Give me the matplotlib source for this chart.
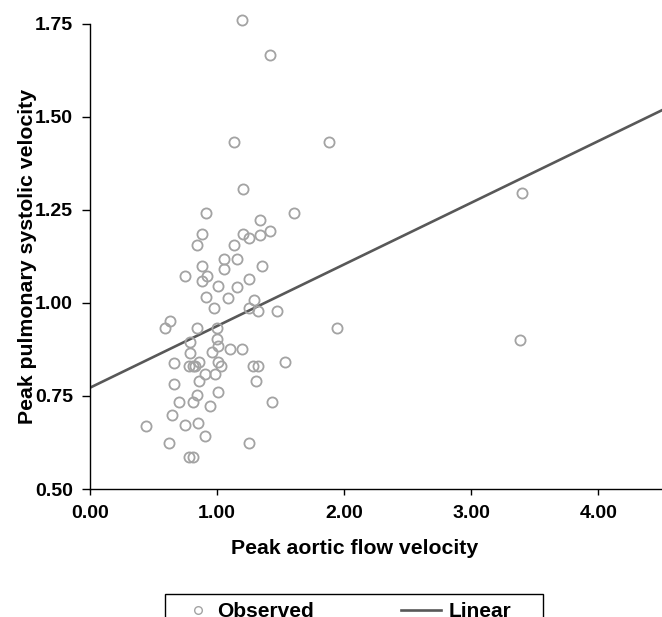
import matplotlib
matplotlib.use("Agg")
import matplotlib.pyplot as plt
from matplotlib.patches import Rectangle
from matplotlib.lines import Line2D

plt.rcParams['font.family'] = ['Liberation Sans', 'DejaVu Sans']

aortic = [1.197, 1.415, 1.134, 1.877, 1.202, 0.913, 1.606, 1.339, 0.884, 1.207,
          1.247, 1.339, 1.415, 0.845, 1.134, 1.055, 1.160, 0.884, 1.352, 1.055,
          0.751, 0.919, 0.884, 1.247, 1.005, 1.155, 0.911, 1.087, 1.291, 0.979,
          1.254, 1.320, 1.472, 0.630, 0.593, 0.840, 1.002, 1.945, 0.787, 0.997,
          1.005, 1.102, 1.197, 0.787, 0.958, 0.661, 0.861, 1.005, 1.538, 0.782,
          0.814, 0.827, 1.031, 1.281, 1.318, 0.908, 0.982, 0.661, 0.861, 1.305,
          0.843, 1.010, 0.703, 0.814, 0.945, 1.430, 0.646, 0.438, 0.751, 0.848,
          0.908, 0.625, 1.247, 0.780, 0.814, 3.402, 3.386]
pulmonary = [1.759, 1.666, 1.433, 1.433, 1.305, 1.242, 1.242, 1.221, 1.184, 1.184,
             1.174, 1.181, 1.192, 1.156, 1.156, 1.118, 1.117, 1.100, 1.100, 1.090,
             1.073, 1.071, 1.059, 1.064, 1.044, 1.043, 1.015, 1.014, 1.007, 0.987,
             0.987, 0.978, 0.978, 0.952, 0.932, 0.931, 0.933, 0.931, 0.895, 0.904,
             0.885, 0.875, 0.875, 0.866, 0.867, 0.839, 0.841, 0.841, 0.840, 0.830,
             0.831, 0.829, 0.830, 0.830, 0.830, 0.809, 0.810, 0.782, 0.790, 0.790,
             0.753, 0.761, 0.734, 0.734, 0.724, 0.734, 0.699, 0.670, 0.672, 0.678,
             0.641, 0.624, 0.624, 0.586, 0.586, 1.295, 0.901]

fit_intercept = 0.772
fit_slope = 0.1656
fit_x = [0.0, 4.5]
fit_y = [fit_intercept + fit_slope * v for v in fit_x]

xticks = [0, 1, 2, 3, 4]
xticklabels = ['0.00', '1.00', '2.00', '3.00', '4.00']
yticks = [0.50, 0.75, 1.00, 1.25, 1.50, 1.75]
yticklabels = ['0.50', '0.75', '1.00', '1.25', '1.50', '1.75']
legend_labels = ['Observed', 'Linear']

W, H = 662, 617
fig = plt.figure(figsize=(W / 100, H / 100), dpi=100)
ax = fig.add_axes([90 / W, 1 - 489 / H, (W - 90) / W, (489 - 23.5) / H])

pt_color = '#a3a3a3'
line_color = '#585858'

ax.plot(aortic, pulmonary, linestyle='none', marker='o', markersize=7.3,
        markerfacecolor='none', markeredgecolor=pt_color, markeredgewidth=1.3,
        clip_on=False, zorder=3)
ax.plot(fit_x, fit_y, color=line_color, linewidth=1.9, zorder=2)

ax.set_xlim(0, 4.5)
ax.set_ylim(0.5, 1.75)
ax.set_xticks(xticks)
ax.set_xticklabels(xticklabels)
ax.set_yticks(yticks)
ax.set_yticklabels(yticklabels)
for s in ['top', 'right']:
    ax.spines[s].set_visible(False)
for s in ['left', 'bottom']:
    ax.spines[s].set_linewidth(1.0)
    ax.spines[s].set_color('black')
ax.tick_params(axis='x', direction='out', length=4.5, width=1.0, colors='black', pad=7)
ax.tick_params(axis='y', direction='out', length=6, width=1.0, colors='black', pad=6.2)
for lab in ax.get_xticklabels() + ax.get_yticklabels():
    lab.set_fontsize(14)
    lab.set_fontweight('bold')

ax.set_xlabel('Peak aortic flow velocity', fontsize=15.3, fontweight='bold')
ax.set_ylabel('Peak pulmonary systolic velocity', fontsize=15.3, fontweight='bold')
ax.xaxis.set_label_coords(0.463, (489 - 539.3) / (489 - 23.5))
ax.yaxis.set_label_coords((37 - 90) / (W - 90), 0.5)

# legend frame (cut off by the figure bottom)
fig.patches.append(Rectangle((165 / W, 1 - 650 / H), (543 - 165) / W, (650 - 594) / H,
                             transform=fig.transFigure, fill=False, edgecolor='black',
                             linewidth=1.0, clip_on=False))
h_obs = Line2D([], [], linestyle='none', marker='o', markersize=5.5,
               markerfacecolor='none', markeredgecolor=pt_color, markeredgewidth=1.0)
h_lin = Line2D([], [], color=line_color, linewidth=1.9)
row_y = 1 - 611.5 / H
fig.legend([h_obs], [legend_labels[0]], loc='center left',
           bbox_to_anchor=(187.6 / W, row_y), frameon=False,
           prop={'size': 15, 'weight': 'bold'}, borderpad=0, borderaxespad=0,
           handlelength=1.0, handletextpad=0.4)
fig.legend([h_lin], [legend_labels[1]], loc='center left',
           bbox_to_anchor=(401 / W, row_y), frameon=False,
           prop={'size': 15, 'weight': 'bold'}, borderpad=0, borderaxespad=0,
           handlelength=1.9, handletextpad=0.4)

fig.savefig('out.png', dpi=100)
